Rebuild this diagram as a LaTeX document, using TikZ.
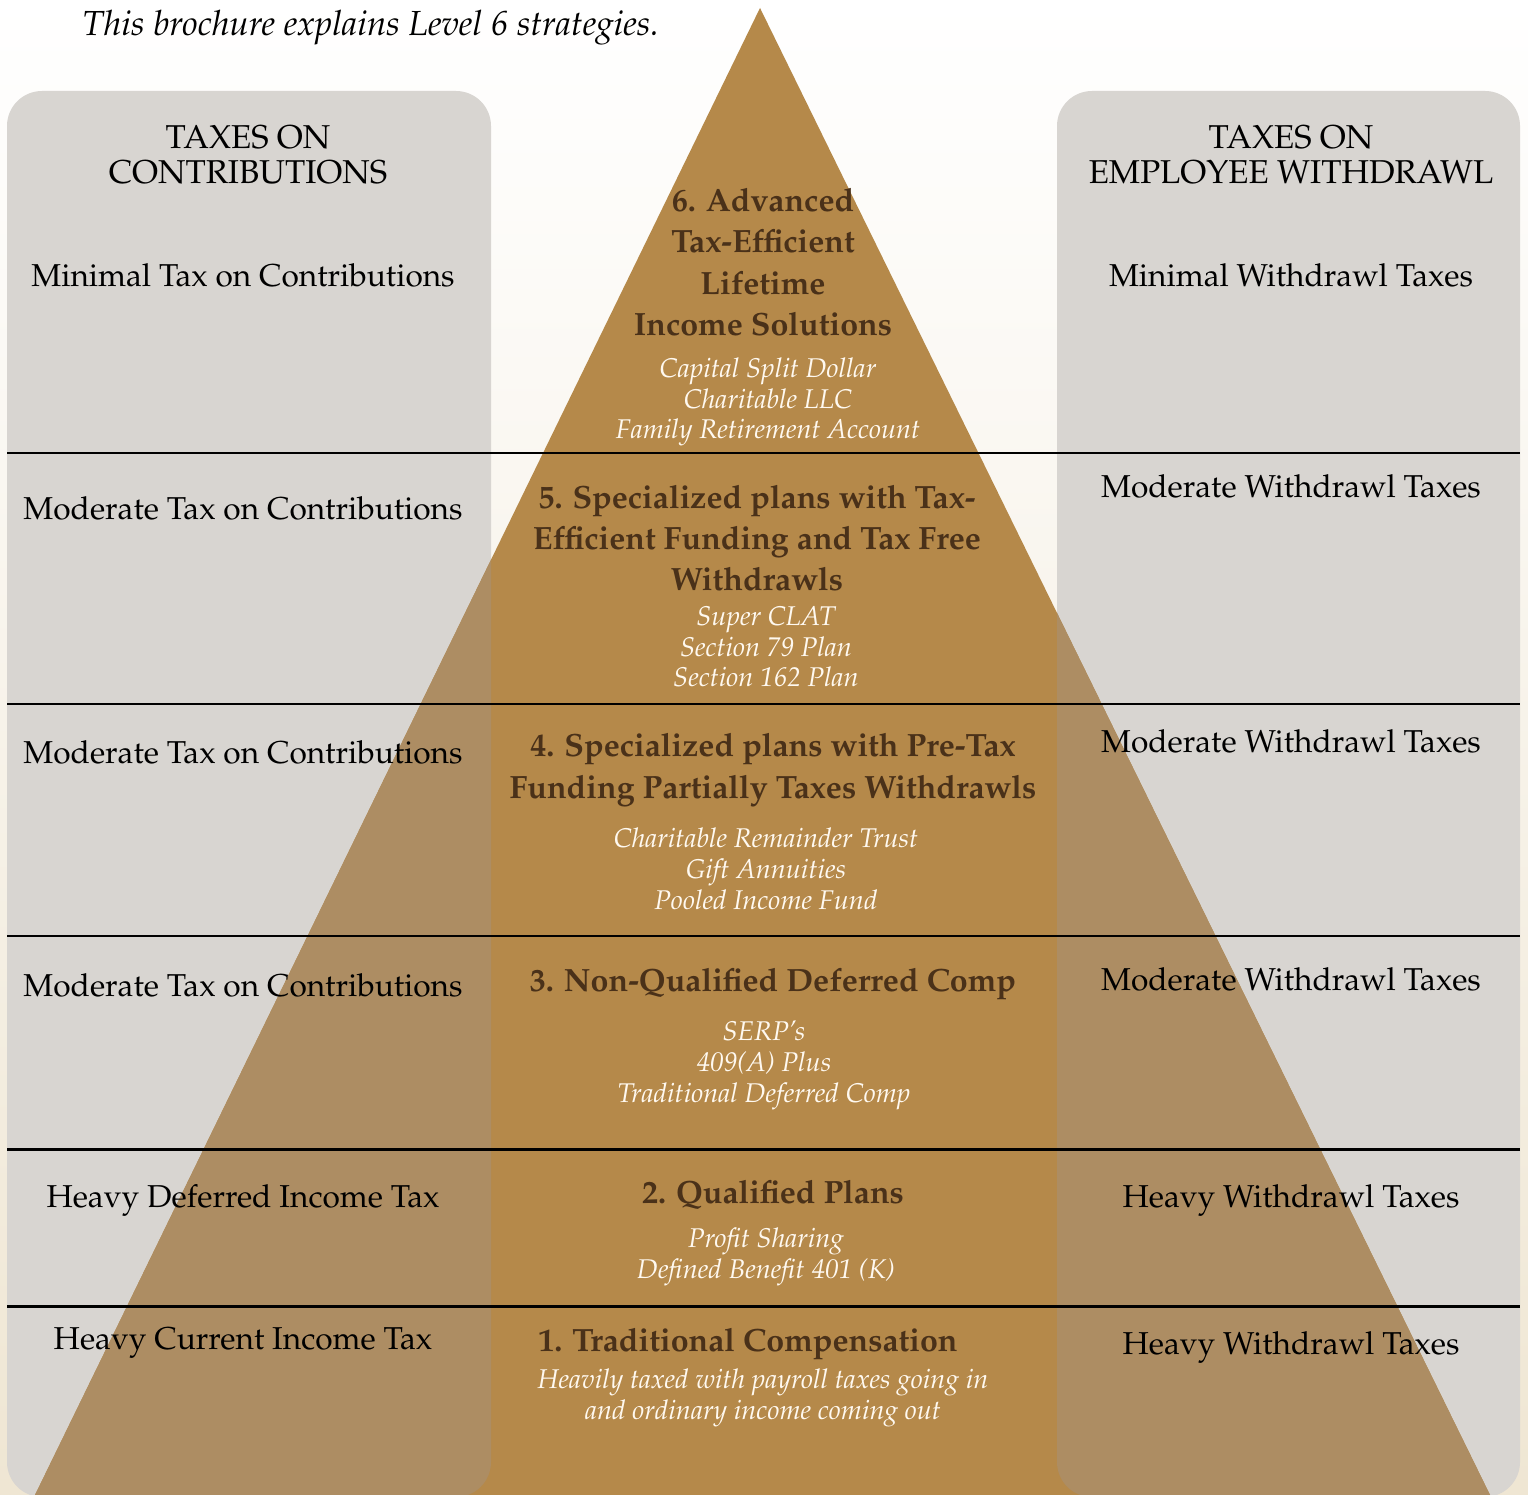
\documentclass[tikz,border=0pt]{standalone}
\usepackage[T1]{fontenc}
\usepackage{mathpazo}
\definecolor{panelgray}{HTML}{D8D5D1}
\definecolor{pyrgold}{HTML}{B5894A}
\definecolor{pyrmute}{HTML}{AD8D63}
\definecolor{tierbrown}{HTML}{4A3119}
\definecolor{subwhite}{HTML}{FFF9F0}
\definecolor{bgcream}{HTML}{EFE6D3}

\begin{document}
\begin{tikzpicture}[x=0.01cm,y=-0.01cm,
  side/.style={font=\fontsize{9}{10.5}\selectfont,text=black,anchor=base,inner sep=0pt},
  head/.style={font=\fontsize{9.4}{10.2}\selectfont,align=center,anchor=base,inner sep=0pt},
  tier/.style={font=\fontsize{9.15}{11.8}\selectfont\bfseries,text=tierbrown,align=center,anchor=base,inner sep=0pt},
  plans/.style={font=\fontsize{7.7}{8.8}\selectfont\itshape,text=subwhite,align=center,anchor=base,inner sep=0pt},
  panel/.style={rounded corners=0.35cm},
  rule/.style={line width=0.85pt,black}]

\useasboundingbox (0,0) rectangle (1528,1495);
\shade[top color=white,middle color=white,bottom color=bgcream] (0,0) rectangle (1528,1495);

\fill[panelgray,panel] (7,91) rectangle (491,1497);
\fill[panelgray,panel] (1057,91) rectangle (1520,1497);

\coordinate (apex) at (760,8);
\coordinate (baseL) at (35,1495);
\coordinate (baseR) at (1490,1495);
\fill[pyrgold] (apex) -- (baseR) -- (baseL) -- cycle;
\begin{scope}
  \clip[panel] (7,91) rectangle (491,1497) (1057,91) rectangle (1520,1497);
  \fill[pyrmute] (apex) -- (baseR) -- (baseL) -- cycle;
\end{scope}

\foreach \y in {453,704,936,1149,1306}
  \draw[rule] (7,\y) -- (1520,\y);

\node[font=\fontsize{9.9}{11}\selectfont\itshape,anchor=base west,inner sep=0pt] (intro) at (82,36) {This brochure explains Level 6 strategies.};

\node[head] (hleft) at (248,184) {TAXES ON\\CONTRIBUTIONS};
\node[head] (hright) at (1291,184) {TAXES ON\\EMPLOYEE WITHDRAWL};

\foreach \n/\y/\t in {l6/287/Minimal Tax on Contributions, l5/520/Moderate Tax on Contributions,
  l4/763/Moderate Tax on Contributions, l3/996/Moderate Tax on Contributions,
  l2/1207/Heavy Deferred Income Tax, l1/1349/Heavy Current Income Tax}
  \node[side] (\n) at (243,\y) {\t};

\foreach \n/\y/\t in {r6/287/Minimal Withdrawl Taxes, r5/498/Moderate Withdrawl Taxes,
  r4/752/Moderate Withdrawl Taxes, r3/990/Moderate Withdrawl Taxes,
  r2/1207/Heavy Withdrawl Taxes, r1/1354/Heavy Withdrawl Taxes}
  \node[side] (\n) at (1291,\y) {\t};

\node[tier] (tier6) at (763,336) {6. Advanced\\Tax-Efficient\\Lifetime\\Income Solutions};
\node[plans] (plans6) at (768,439) {Capital Split Dollar\\Charitable LLC\\Family Retirement Account};

\node[tier] (tier5) at (757,591) {5. Specialized plans with Tax-\\Efficient Funding and Tax Free\\Withdrawls};
\node[plans] (plans5) at (766,687) {Super CLAT\\Section 79 Plan\\Section 162 Plan};

\node[tier] (tier4) at (773,798) {4. Specialized plans with Pre-Tax\\Funding Partially Taxes Withdrawls};
\node[plans] (plans4) at (766,909) {Charitable Remainder Trust\\Gift Annuities\\Pooled Income Fund};

\node[tier] (tier3) at (773,991) {3. Non-Qualified Deferred Comp};
\node[plans] (plans3) at (764,1102) {SERP's\\409(A) Plus\\Traditional Deferred Comp};

\node[tier] (tier2) at (773,1203) {2. Qualified Plans};
\node[plans] (plans2) at (766,1278) {Profit Sharing\\Defined Benefit 401 (K)};

\node[tier] (tier1) at (748,1351) {1. Traditional Compensation};
\node[plans] (plans1) at (763,1419) {Heavily taxed with payroll taxes going in\\and ordinary income coming out};
\end{tikzpicture}
\end{document}
